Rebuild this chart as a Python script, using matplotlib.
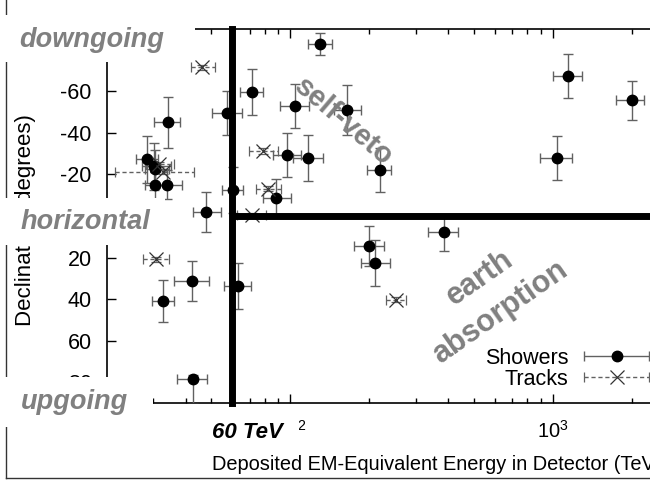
import numpy as np
import matplotlib
matplotlib.use("Agg")
import matplotlib.pyplot as plt
import matplotlib.patches as patches
from matplotlib.lines import Line2D
from matplotlib.legend_handler import HandlerErrorbar
from matplotlib.ticker import LogLocator, NullFormatter

plt.rcParams['font.family'] = ['Liberation Sans', 'DejaVu Sans']
plt.rcParams['axes.unicode_minus'] = False
plt.rcParams['mathtext.fontset'] = 'custom'
plt.rcParams['mathtext.rm'] = 'Liberation Sans'
plt.rcParams['mathtext.it'] = 'Liberation Sans:italic'
plt.rcParams['mathtext.bf'] = 'Liberation Sans:bold'
plt.rcParams['mathtext.default'] = 'regular'

# showers: energy (TeV) with -/+ errors, declination (deg) with -/+ errors
shower_energy = [130, 71.5, 57.5, 104, 165, 220, 97.2, 117, 88.4, 60.2, 47.6, 34.3,
                 28.4, 30.2, 30.6, 30.5, 33.8, 1141, 1041, 2004, 385, 200, 210,
                 42.1, 32.7, 63.2, 42.5]
shower_e_lo = [13, 7, 7.4, 13, 18, 24, 11, 15, 10, 5.5, 5.2, 4,
               2.5, 3.1, 2.8, 2.7, 3.6, 140, 144, 260, 50, 26, 25,
               6.2, 2.9, 7.6, 5.6]
shower_e_hi = [14, 7.4, 8.1, 14, 21, 22, 13, 16, 12, 6, 7, 3.5,
               3, 5, 4, 3, 4.8, 150, 140, 230, 50, 28, 30,
               6.7, 3.2, 7.3, 5.8]
shower_dec = [-82.6, -59.7, -49.7, -52.8, -51.2, -22.1, -29.4, -27.9, -8.9, -12.6, -1.8, -45.1,
              -27.2, -24.0, -22.6, -15.1, -15.0, -67.2, -27.9, -55.8, 7.8, 14.5, 22.7,
              31.3, 41.0, 33.6, 78.3]
shower_d_lo = [5.3, 11, 10.6, 10.6, 12, 10.4, 10.4, 11, 9, 11, 9.7, 12.3,
               11.4, 11.3, 9.3, 7, 7, 10.6, 10.6, 9.4, 9, 9.5, 11,
               9.7, 10, 11, 2]
shower_d_hi = [5.3, 11, 10.6, 10.6, 12, 10.4, 10.4, 11, 9, 11, 9.7, 12.3,
               11.4, 11.3, 9.3, 7, 7, 10.6, 10.6, 9.4, 9, 9.5, 11,
               9.7, 10, 11, 12]

# tracks
track_energy = [46.1, 78.7, 82.2, 71.4, 32.6, 31.5, 30.8, 253]
track_e_lo = [4.4, 9, 8.4, 9, 11.1, 3.3, 3.4, 21]
track_e_hi = [5.7, 11, 10, 9, 10.3, 4.6, 3.6, 23]
track_dec = [-71.5, -31.2, -13.2, -0.4, -21.2, -24.8, 20.7, 40.3]
track_d_err = [1.2, 1.4, 1.2, 1.2, 1.2, 1.2, 1.2, 1.2]

threshold = 60  # TeV
xlim = (20, 3000)
ylim = (90, -90)
dec_ticks = [-80, -60, -40, -20, 0, 20, 40, 60, 80]

W, H = 650, 480
fig = plt.figure(figsize=(W / 100, H / 100), dpi=100)
ax = fig.add_axes([107 / W, 77 / H, 571 / W, 374 / H])
ax.set_xscale('log')
ax.set_xlim(*xlim)
ax.set_ylim(*ylim)

ecol = '0.38'
ax.errorbar(shower_energy, shower_dec,
            xerr=[shower_e_lo, shower_e_hi], yerr=[shower_d_lo, shower_d_hi],
            fmt='o', color='black', ms=7.5, ecolor=ecol, elinewidth=1.0,
            capsize=3.8, capthick=1.0, zorder=3)
eb = ax.errorbar(track_energy, track_dec,
                 xerr=[track_e_lo, track_e_hi], yerr=track_d_err,
                 fmt='x', color='0.2', ms=10.5, mew=0.9, ecolor=ecol, elinewidth=1.0,
                 capsize=3.8, capthick=1.0, zorder=3)
for lc in eb[2]:
    lc.set_linestyle((0, (3, 2)))

# cut lines
ax.axvline(threshold, color='black', lw=5, solid_capstyle='projecting', clip_on=False, zorder=4)
ax.plot([threshold, xlim[1]], [0, 0], color='black', lw=5, solid_capstyle='butt', zorder=4)

# legend handles (x error only, like gnuplot keys)
h_sh = ax.errorbar([np.nan], [np.nan], xerr=[1], fmt='o', color='black', ms=7.5,
                   ecolor=ecol, elinewidth=1.0, capsize=3.8, capthick=1.0)
h_tr = ax.errorbar([np.nan], [np.nan], xerr=[1], fmt='x', color='0.2', ms=10.5, mew=0.9,
                   ecolor=ecol, elinewidth=1.0, capsize=3.8, capthick=1.0)
for lc in h_tr[2]:
    lc.set_linestyle((0, (3, 2)))
ax.legend([h_sh, h_tr], ['Showers', 'Tracks'], loc='center right',
          bbox_to_anchor=(649 / W, 1 - 369 / H), bbox_transform=fig.transFigure,
          handler_map={h_sh: HandlerErrorbar(xerr_size=1.5),
                       h_tr: HandlerErrorbar(xerr_size=1.5)},
          frameon=False, markerfirst=False, fontsize=15.5, handlelength=3.0,
          handletextpad=0.75, labelspacing=0.0, borderpad=0, borderaxespad=0)

ax.set_yticks(dec_ticks)
ax.xaxis.set_major_locator(LogLocator(base=10))
ax.xaxis.set_minor_locator(LogLocator(base=10, subs=np.arange(2, 10)))
ax.xaxis.set_minor_formatter(NullFormatter())
ax.tick_params(which='both', direction='in', top=True, right=True, width=1)
ax.tick_params(which='major', length=6.5)
ax.tick_params(which='minor', length=3.5)
ax.tick_params(axis='y', pad=11, labelsize=15.5)
ax.tick_params(axis='x', pad=12, labelsize=14.5)
for s in ax.spines.values():
    s.set_linewidth(1.2)

ax.set_xlabel('Deposited EM-Equivalent Energy in Detector (TeV)', fontsize=14.4)
ax.xaxis.label.set_horizontalalignment('left')
ax.xaxis.set_label_coords((212 - 107) / 571, -0.14)
ax.set_ylabel('Declination (degrees)', fontsize=16)
ax.yaxis.set_label_coords(-0.125, 0.49)

# region labels on the plot
gray = '0.5'
fig.text(344 / W, 1 - 122 / H, 'self-veto', rotation=-40.5, rotation_mode='anchor',
         ha='center', va='center', fontsize=21, fontweight='bold', color=gray)
fig.text(480 / W, 1 - 278 / H, 'earth', rotation=35, rotation_mode='anchor',
         ha='center', va='center', fontsize=22, fontweight='bold', color=gray)
fig.text(500 / W, 1 - 312 / H, 'absorption', rotation=35, rotation_mode='anchor',
         ha='center', va='center', fontsize=22, fontweight='bold', color=gray)

# outer frame
fig.add_artist(Line2D([6 / W, 6 / W], [2 / H, 1], transform=fig.transFigure, color='0.2', lw=1))
fig.add_artist(Line2D([6 / W, 1], [2 / H, 2 / H], transform=fig.transFigure, color='0.2', lw=1))

# white cover boxes with direction labels
boxes = [(0, 15, 195, 62), (0, 198, 165, 245), (0, 377, 153, 427), (203, 416, 299, 447)]
for x0, y0, x1, y1 in boxes:
    fig.add_artist(patches.Rectangle((x0 / W, 1 - y1 / H), (x1 - x0) / W, (y1 - y0) / H,
                                     transform=fig.transFigure, facecolor='white',
                                     edgecolor='none', zorder=5))

for label, cx, cy in [('downgoing', 92, 40), ('horizontal', 85, 222), ('upgoing', 74, 402)]:
    fig.text(cx / W, 1 - cy / H, label, ha='center', va='center', fontsize=19.5,
             fontweight='bold', fontstyle='italic', color=gray, zorder=6)
fig.text(247 / W, 1 - 432 / H, '60 TeV', ha='center', va='center', fontsize=16,
         fontweight='bold', fontstyle='italic', color='black', zorder=6)

fig.savefig('out.png', dpi=100)
